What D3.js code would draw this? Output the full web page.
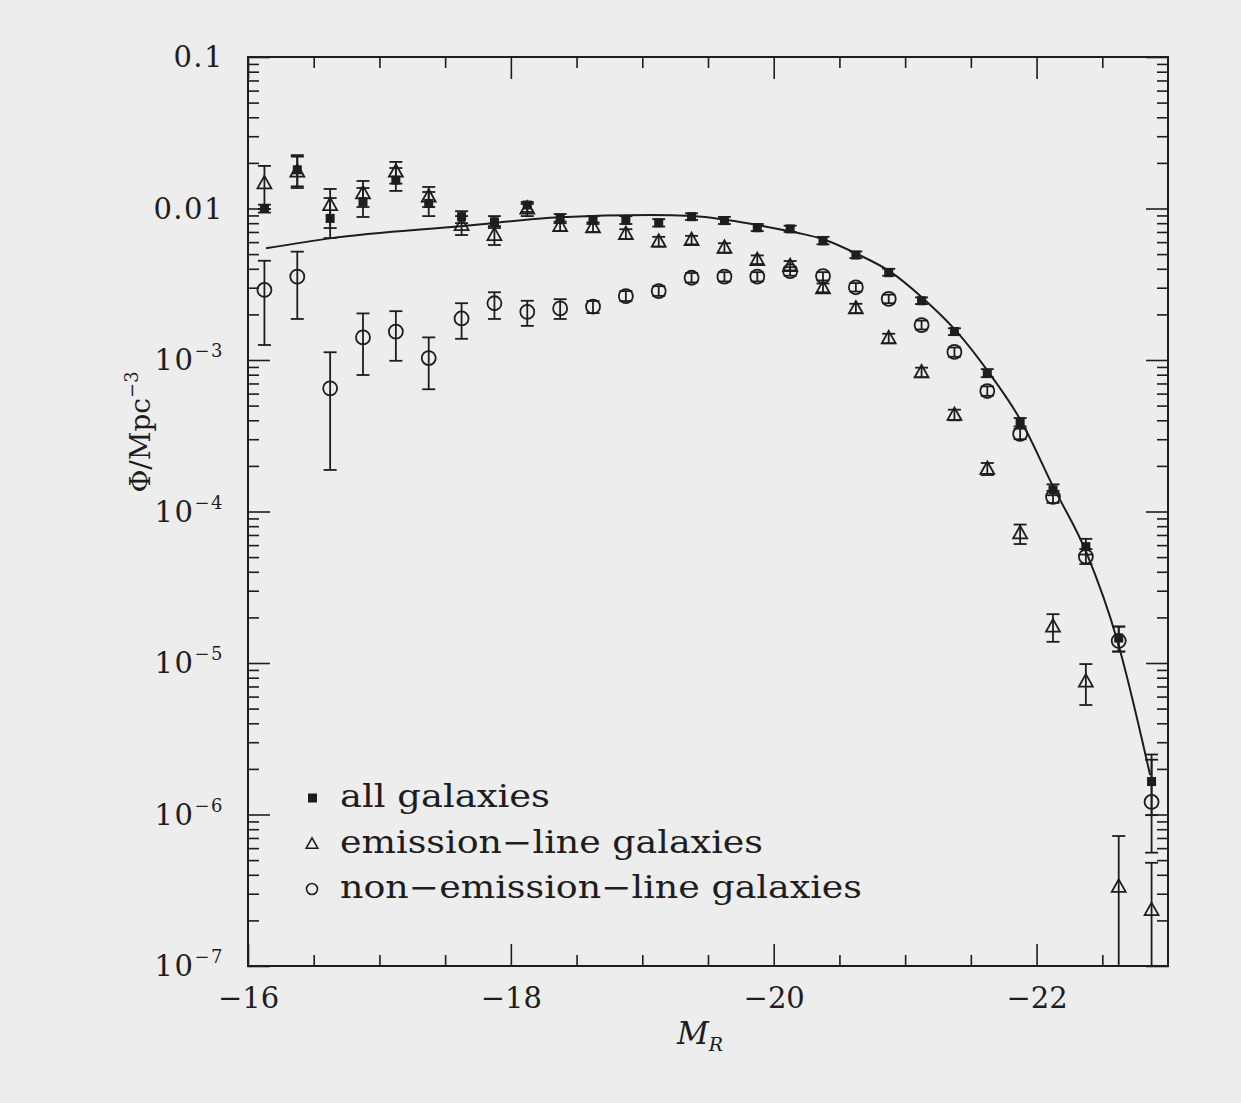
<!DOCTYPE html>
<html><head><meta charset="utf-8">
<script src="https://cdn.jsdelivr.net/npm/d3@7"></script>
<style>html,body{margin:0;padding:0;background:#ededed;} svg{display:block;}</style>
</head><body>
<svg id="chart" width="1241" height="1103"></svg>
<script>
// ---------------- data ----------------
const magBins = [-16.125,-16.375,-16.625,-16.875,-17.125,-17.375,-17.625,-17.875,-18.125,-18.375,-18.625,-18.875,-19.125,-19.375,-19.625,-19.875,-20.125,-20.375,-20.625,-20.875,-21.125,-21.375,-21.625,-21.875,-22.125,-22.375,-22.625,-22.875];

// all galaxies (filled squares)
const allPhi = [0.0100,0.0180,0.0086,0.0111,0.0154,0.0108,0.00883,0.00818,0.01054,0.0086,0.0084,0.0084,0.00805,0.00883,0.00832,0.00746,0.00733,0.00612,0.00493,0.00377,0.00246,0.00154,0.000817,0.000388,0.000139,5.86e-5,1.46e-5,1.65e-6];
const allLo  = [0.0094,0.0140,0.00638,0.00879,0.01306,0.00891,0.0080,0.00743,0.00949,0.0080,0.0079,0.0079,0.0076,0.0084,0.0079,0.0071,0.0070,0.0058,0.0047,0.0036,0.00234,0.00146,0.00077,0.000364,0.000128,5.2e-5,1.19e-5,9.9e-7];
const allHi  = [0.0106,0.0220,0.01172,0.01365,0.0185,0.01285,0.0096,0.00891,0.01104,0.0092,0.0089,0.0089,0.0085,0.0093,0.0088,0.0079,0.0077,0.0065,0.0052,0.0040,0.00259,0.00162,0.00087,0.000414,0.000151,6.6e-5,1.74e-5,2.49e-6];

// emission-line galaxies (open triangles)
const emPhi = [0.01465,0.0175,0.01054,0.01259,0.0175,0.01197,0.00778,0.00668,0.0100,0.00765,0.00751,0.00679,0.00604,0.00619,0.00551,0.00457,0.00417,0.00297,0.00219,0.00139,0.00083,0.000434,0.000191,7.18e-5,1.74e-5,7.54e-6,3.33e-7,2.34e-7];
const emLo  = [0.00993,0.01365,0.00743,0.01023,0.0146,0.01023,0.00668,0.00574,0.00891,0.0071,0.0070,0.0063,0.0056,0.0058,0.0051,0.0043,0.0039,0.0028,0.00204,0.00129,0.00077,0.000400,0.000174,6.1e-5,1.38e-5,5.28e-6,5e-8,3e-8];
const emHi  = [0.0191,0.0225,0.01346,0.0152,0.0203,0.01387,0.00891,0.00765,0.01072,0.0082,0.0081,0.0073,0.0065,0.0066,0.0059,0.0049,0.0045,0.0032,0.00235,0.00149,0.00089,0.000470,0.000209,8.2e-5,2.10e-5,9.84e-6,7.21e-7,4.8e-7];

// non-emission-line galaxies (open circles)
const nonPhi = [0.0029,0.00355,0.00065,0.00141,0.00154,0.00103,0.00188,0.00237,0.00208,0.00219,0.00225,0.00264,0.00285,0.00349,0.00355,0.00355,0.00386,0.00358,0.00302,0.00253,0.0017,0.00113,0.000624,0.000325,0.000125,5.04e-5,1.40e-5,1.21e-6];
const nonLo  = [0.001256,0.001866,0.000188,0.000796,0.000988,0.000641,0.00138,0.001866,0.00168,0.001866,0.00204,0.00245,0.00265,0.00325,0.0033,0.0033,0.0036,0.00335,0.00283,0.00237,0.00159,0.00105,0.000580,0.000300,0.000114,4.5e-5,1.19e-5,5.6e-7];
const nonHi  = [0.00452,0.00519,0.001125,0.00203,0.0021,0.00141,0.00237,0.0028,0.00246,0.00252,0.00245,0.00285,0.00307,0.00375,0.0038,0.0038,0.0041,0.0038,0.00322,0.0027,0.00182,0.00121,0.000670,0.000352,0.000137,5.65e-5,1.74e-5,2.3e-6];

// fitted Schechter curve
const fitMag = [-16.137,-16.624,-17.636,-18.374,-19.059,-19.386,-19.645,-19.919,-20.178,-20.376,-20.635,-20.886,-21.137,-21.381,-21.632,-21.875,-22.126,-22.377,-22.613,-22.864];
const fitPhi = [0.00546,0.00635,0.00766,0.00875,0.00906,0.00891,0.00839,0.00766,0.00692,0.00627,0.00501,0.00383,0.00255,0.00158,0.000838,0.000406,0.000146,5.41e-5,1.42e-5,1.82e-6];

// axes
const xMajorTicks = [-16,-18,-20,-22];
const xTickLabels = ["\u221216","\u221218","\u221220","\u221222"];
const xMinorTicks = [-16.5,-17,-17.5,-18.5,-19,-19.5,-20.5,-21,-21.5,-22.5];
const yDecades = [1e-7,1e-6,1e-5,1e-4,1e-3,1e-2,1e-1];
const yTickLabels = [["10","\u22127"],["10","\u22126"],["10","\u22125"],["10","\u22124"],["10","\u22123"],["0.01",""],["0.1",""]];

const legendLabels = ["all galaxies","emission\u2212line galaxies","non\u2212emission\u2212line galaxies"];

// ---------------- drawing ----------------
const ink = "#1d1d1d";
const serif = "'DejaVu Serif', 'Liberation Serif', serif";
const svg = d3.select("#chart");
const L = 248, R = 1168, T = 57, B = 966;
const x = d3.scaleLinear().domain([-16,-23]).range([L,R]);
const y = d3.scaleLog().domain([1e-7,0.1]).range([B,T]);

svg.append("defs").append("clipPath").attr("id","plotclip")
  .append("rect").attr("x",L).attr("y",T).attr("width",R-L).attr("height",B-T);

function styleAxis(g){
  g.select(".domain").remove();
  g.selectAll(".tick line").attr("stroke",ink).attr("stroke-width",1.6);
}
const yMinor = [];
yDecades.slice(0,-1).forEach(d=>{ for(let k=2;k<=9;k++) yMinor.push(k*d); });

// x ticks
svg.append("g").attr("transform",`translate(0,${B})`)
  .call(d3.axisBottom(x).tickValues(xMajorTicks).tickSize(-22).tickPadding(21).tickFormat((d,i)=>xTickLabels[i]))
  .call(styleAxis)
  .call(g=>g.selectAll("text").attr("font-family",serif).attr("font-size",29).attr("fill",ink));
svg.append("g").attr("transform",`translate(0,${B})`)
  .call(d3.axisBottom(x).tickValues(xMinorTicks).tickSize(-11).tickFormat("")).call(styleAxis);
svg.append("g").attr("transform",`translate(0,${T})`)
  .call(d3.axisTop(x).tickValues(xMajorTicks).tickSize(-22).tickFormat("")).call(styleAxis);
svg.append("g").attr("transform",`translate(0,${T})`)
  .call(d3.axisTop(x).tickValues(xMinorTicks).tickSize(-11).tickFormat("")).call(styleAxis);
// y ticks
svg.append("g").attr("transform",`translate(${L},0)`)
  .call(d3.axisLeft(y).tickValues(yDecades).tickSize(-22).tickFormat("")).call(styleAxis);
svg.append("g").attr("transform",`translate(${L},0)`)
  .call(d3.axisLeft(y).tickValues(yMinor).tickSize(-11).tickFormat("")).call(styleAxis);
svg.append("g").attr("transform",`translate(${R},0)`)
  .call(d3.axisRight(y).tickValues(yDecades).tickSize(-22).tickFormat("")).call(styleAxis);
svg.append("g").attr("transform",`translate(${R},0)`)
  .call(d3.axisRight(y).tickValues(yMinor).tickSize(-11).tickFormat("")).call(styleAxis);

// frame
svg.append("rect").attr("x",L).attr("y",T).attr("width",R-L).attr("height",B-T)
  .attr("fill","none").attr("stroke",ink).attr("stroke-width",2);

// y tick labels
const yl = svg.append("g").attr("font-family",serif).attr("fill",ink);
yDecades.forEach((d,i)=>{
  const t = yl.append("text").attr("x",L-24).attr("y",y(d)+10)
    .attr("text-anchor","end").attr("font-size",29).attr("letter-spacing",1.5);
  t.append("tspan").text(yTickLabels[i][0]);
  if(yTickLabels[i][1]) t.append("tspan").attr("font-size",18).attr("dy",-13).text(yTickLabels[i][1]);
});

// axis titles
const yt = svg.append("text").attr("transform","translate(150,432) rotate(-90)")
  .attr("text-anchor","middle").attr("font-family",serif).attr("font-size",28).attr("fill",ink);
yt.append("tspan").text("\u03A6/Mpc");
yt.append("tspan").attr("font-size",18).attr("dy",-12).text("\u22123");

const xt = svg.append("text").attr("x",700).attr("y",1044).attr("text-anchor","middle")
  .attr("font-family",serif).attr("font-style","italic").attr("font-size",31).attr("fill",ink);
xt.append("tspan").text("M");
xt.append("tspan").attr("font-size",19).attr("dy",7).text("R");

// plot layer
const plot = svg.append("g").attr("clip-path","url(#plotclip)");

// fit curve
plot.append("path")
  .datum(fitMag.map((m,i)=>[m,fitPhi[i]]))
  .attr("fill","none").attr("stroke",ink).attr("stroke-width",2)
  .attr("d", d3.line().x(d=>x(d[0])).y(d=>y(d[1])).curve(d3.curveMonotoneX));

// error bars
function errBars(vals, lo, hi){
  const g = plot.append("g").attr("stroke",ink).attr("stroke-width",1.8).attr("fill","none");
  magBins.forEach((m,i)=>{
    const cx = x(m), y1 = y(Math.max(lo[i],1e-9)), y2 = y(hi[i]);
    g.append("line").attr("x1",cx).attr("x2",cx).attr("y1",y1).attr("y2",y2);
    g.append("line").attr("x1",cx-6.5).attr("x2",cx+6.5).attr("y1",y2).attr("y2",y2);
    g.append("line").attr("x1",cx-6.5).attr("x2",cx+6.5).attr("y1",y1).attr("y2",y1);
  });
}
errBars(allPhi, allLo, allHi);
errBars(emPhi, emLo, emHi);
errBars(nonPhi, nonLo, nonHi);

const triPath = (s)=>`M0,${-s*0.62}L${s*0.58},${s*0.42}L${-s*0.58},${s*0.42}Z`;

// markers
plot.append("g").selectAll("circle").data(magBins).join("circle")
  .attr("cx",d=>x(d)).attr("cy",(d,i)=>y(nonPhi[i])).attr("r",7)
  .attr("fill","none").attr("stroke",ink).attr("stroke-width",1.8);
plot.append("g").selectAll("path").data(magBins).join("path")
  .attr("transform",(d,i)=>`translate(${x(d)},${y(emPhi[i])})`).attr("d",triPath(12))
  .attr("fill","none").attr("stroke",ink).attr("stroke-width",1.8);
plot.append("g").selectAll("rect").data(magBins).join("rect")
  .attr("x",d=>x(d)-4.5).attr("y",(d,i)=>y(allPhi[i])-4.5).attr("width",9).attr("height",9)
  .attr("fill",ink);

// legend
const lg = svg.append("g").attr("font-family",serif).attr("fill",ink);
const legY = [798,844,889];
lg.append("rect").attr("x",308).attr("y",legY[0]-4.5).attr("width",9).attr("height",9).attr("fill",ink);
lg.append("path").attr("transform",`translate(312,${legY[1]})`).attr("d",triPath(10))
  .attr("fill","none").attr("stroke",ink).attr("stroke-width",1.6);
lg.append("circle").attr("cx",312).attr("cy",legY[2]).attr("r",5.5)
  .attr("fill","none").attr("stroke",ink).attr("stroke-width",1.6);
const legW = [210,423,522];
legendLabels.forEach((s,i)=>{
  lg.append("text").attr("x",340).attr("y",legY[i]+9).attr("font-size",31)
    .attr("textLength",legW[i]).attr("lengthAdjust","spacingAndGlyphs").text(s);
});
</script>
</body></html>
